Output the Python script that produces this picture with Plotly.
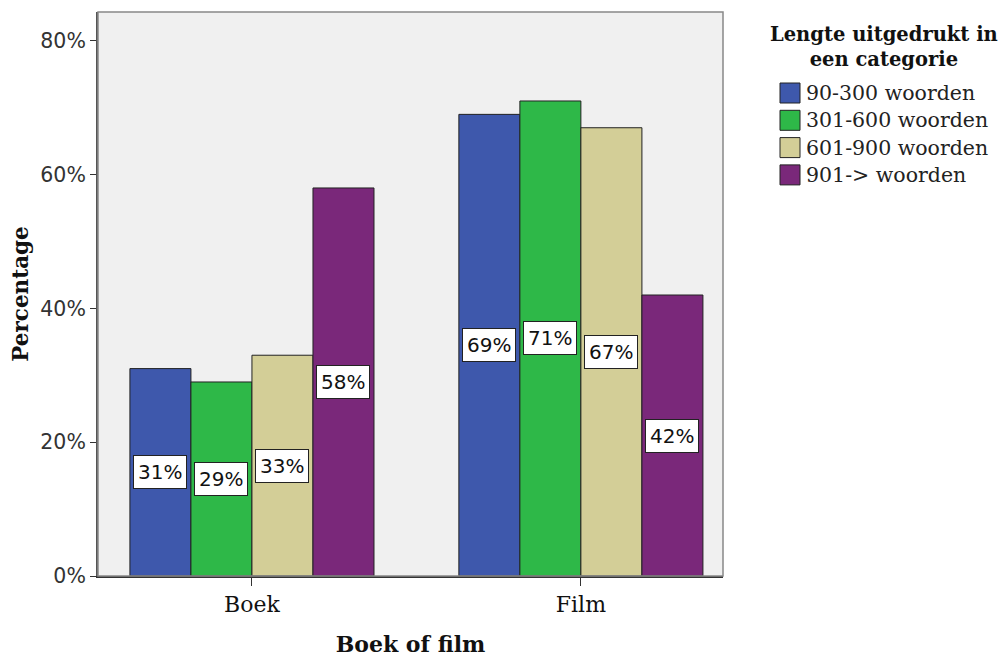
import plotly.graph_objects as go

# Data
categories = ["Boek", "Film"]
series_names = ["90-300 woorden", "301-600 woorden", "601-900 woorden", "901-> woorden"]
values = {
    "90-300 woorden": [31, 69],
    "301-600 woorden": [29, 71],
    "601-900 woorden": [33, 67],
    "901-> woorden": [58, 42],
}
colors = ["#3e58ac", "#2eb848", "#d3ce97", "#7a287a"]
y_ticks = [0, 20, 40, 60, 80]
y_tick_text = ["0%", "20%", "40%", "60%", "80%"]

SERIF = "DejaVu Serif"
SANS = "DejaVu Sans"

W, H = 1003, 659
ML, MR, MT, MB = 98, 280, 12, 83
PW, PH = W - ML - MR, H - MT - MB

group_width = 0.742
bar_w = group_width / len(series_names)
xpos = list(range(len(categories)))

fig = go.Figure()
annotations = []
for i, name in enumerate(series_names):
    offset = -group_width / 2 + i * bar_w
    fig.add_trace(go.Bar(
        x=xpos, y=values[name], name=name,
        width=bar_w, offset=offset,
        marker=dict(color=colors[i], line=dict(color="#222222", width=1)),
        showlegend=False,
    ))
    for j, v in enumerate(values[name]):
        annotations.append(dict(
            x=xpos[j] + offset + bar_w / 2, y=v / 2,
            xref="x", yref="y", text=f"{v}%", showarrow=False,
            font=dict(family=SANS, size=20, color="#111111"),
            bgcolor="white", bordercolor="#222222", borderwidth=1, borderpad=4,
        ))


def px_to_paper(x, y):
    return (x - ML) / PW, (MT + PH - y) / PH


# Legend: swatches plus labels in paper space
shapes = []
legend_x0 = 780
legend_y0 = 83
legend_step = 27.3
for i, name in enumerate(series_names):
    top = legend_y0 + i * legend_step
    x0, y0 = px_to_paper(legend_x0, top)
    x1, y1 = px_to_paper(legend_x0 + 20, top + 20)
    shapes.append(dict(
        type="rect", xref="paper", yref="paper", x0=x0, x1=x1, y0=y0, y1=y1,
        fillcolor=colors[i], line=dict(color="#222222", width=1),
    ))
    tx, ty = px_to_paper(legend_x0 + 24, top + 10)
    annotations.append(dict(
        x=tx, y=ty, xref="paper", yref="paper", xanchor="left", yanchor="middle",
        text=name, showarrow=False,
        font=dict(family=SERIF, size=20.5, color="#222222"),
    ))
tx, ty = px_to_paper(884, 47)
annotations.append(dict(
    x=tx, y=ty, xref="paper", yref="paper", xanchor="center", yanchor="middle",
    text="<b>Lengte uitgedrukt in<br>een categorie</b>", showarrow=False,
    font=dict(family=SERIF, size=19.5, color="#111111"),
))

# Plot frame
shapes.append(dict(type="rect", xref="paper", yref="paper", x0=0, x1=1, y0=0, y1=1,
                   line=dict(color="#888888", width=1.5), layer="above"))

fig.update_layout(
    width=W, height=H,
    margin=dict(l=ML, r=MR, t=MT, b=MB),
    paper_bgcolor="white", plot_bgcolor="#f0f0f0",
    barmode="overlay",
    annotations=annotations, shapes=shapes,
    xaxis=dict(
        automargin=False,
        range=[-0.468, 1.432], tickvals=xpos, ticktext=categories,
        ticks="outside", ticklen=8, tickcolor="#333333",
        showgrid=False, zeroline=False,
        showline=True, linecolor="#333333", linewidth=2,
        tickfont=dict(family=SERIF, size=22, color="#111111"),
        title=dict(text="<b>Boek of film</b>", font=dict(family=SERIF, size=22, color="#111111"), standoff=20),
    ),
    yaxis=dict(
        automargin=False,
        range=[0, 84.3], tickvals=y_ticks, ticktext=y_tick_text,
        ticks="outside", ticklen=6, tickcolor="#333333",
        showgrid=False, zeroline=False,
        showline=True, linecolor="#555555", linewidth=2,
        tickfont=dict(family=SANS, size=20.5, color="#333333"),
        title=dict(text="<b>Percentage</b>", font=dict(family=SERIF, size=21.5, color="#111111"), standoff=6),
    ),
)

fig.write_html("out.html")
